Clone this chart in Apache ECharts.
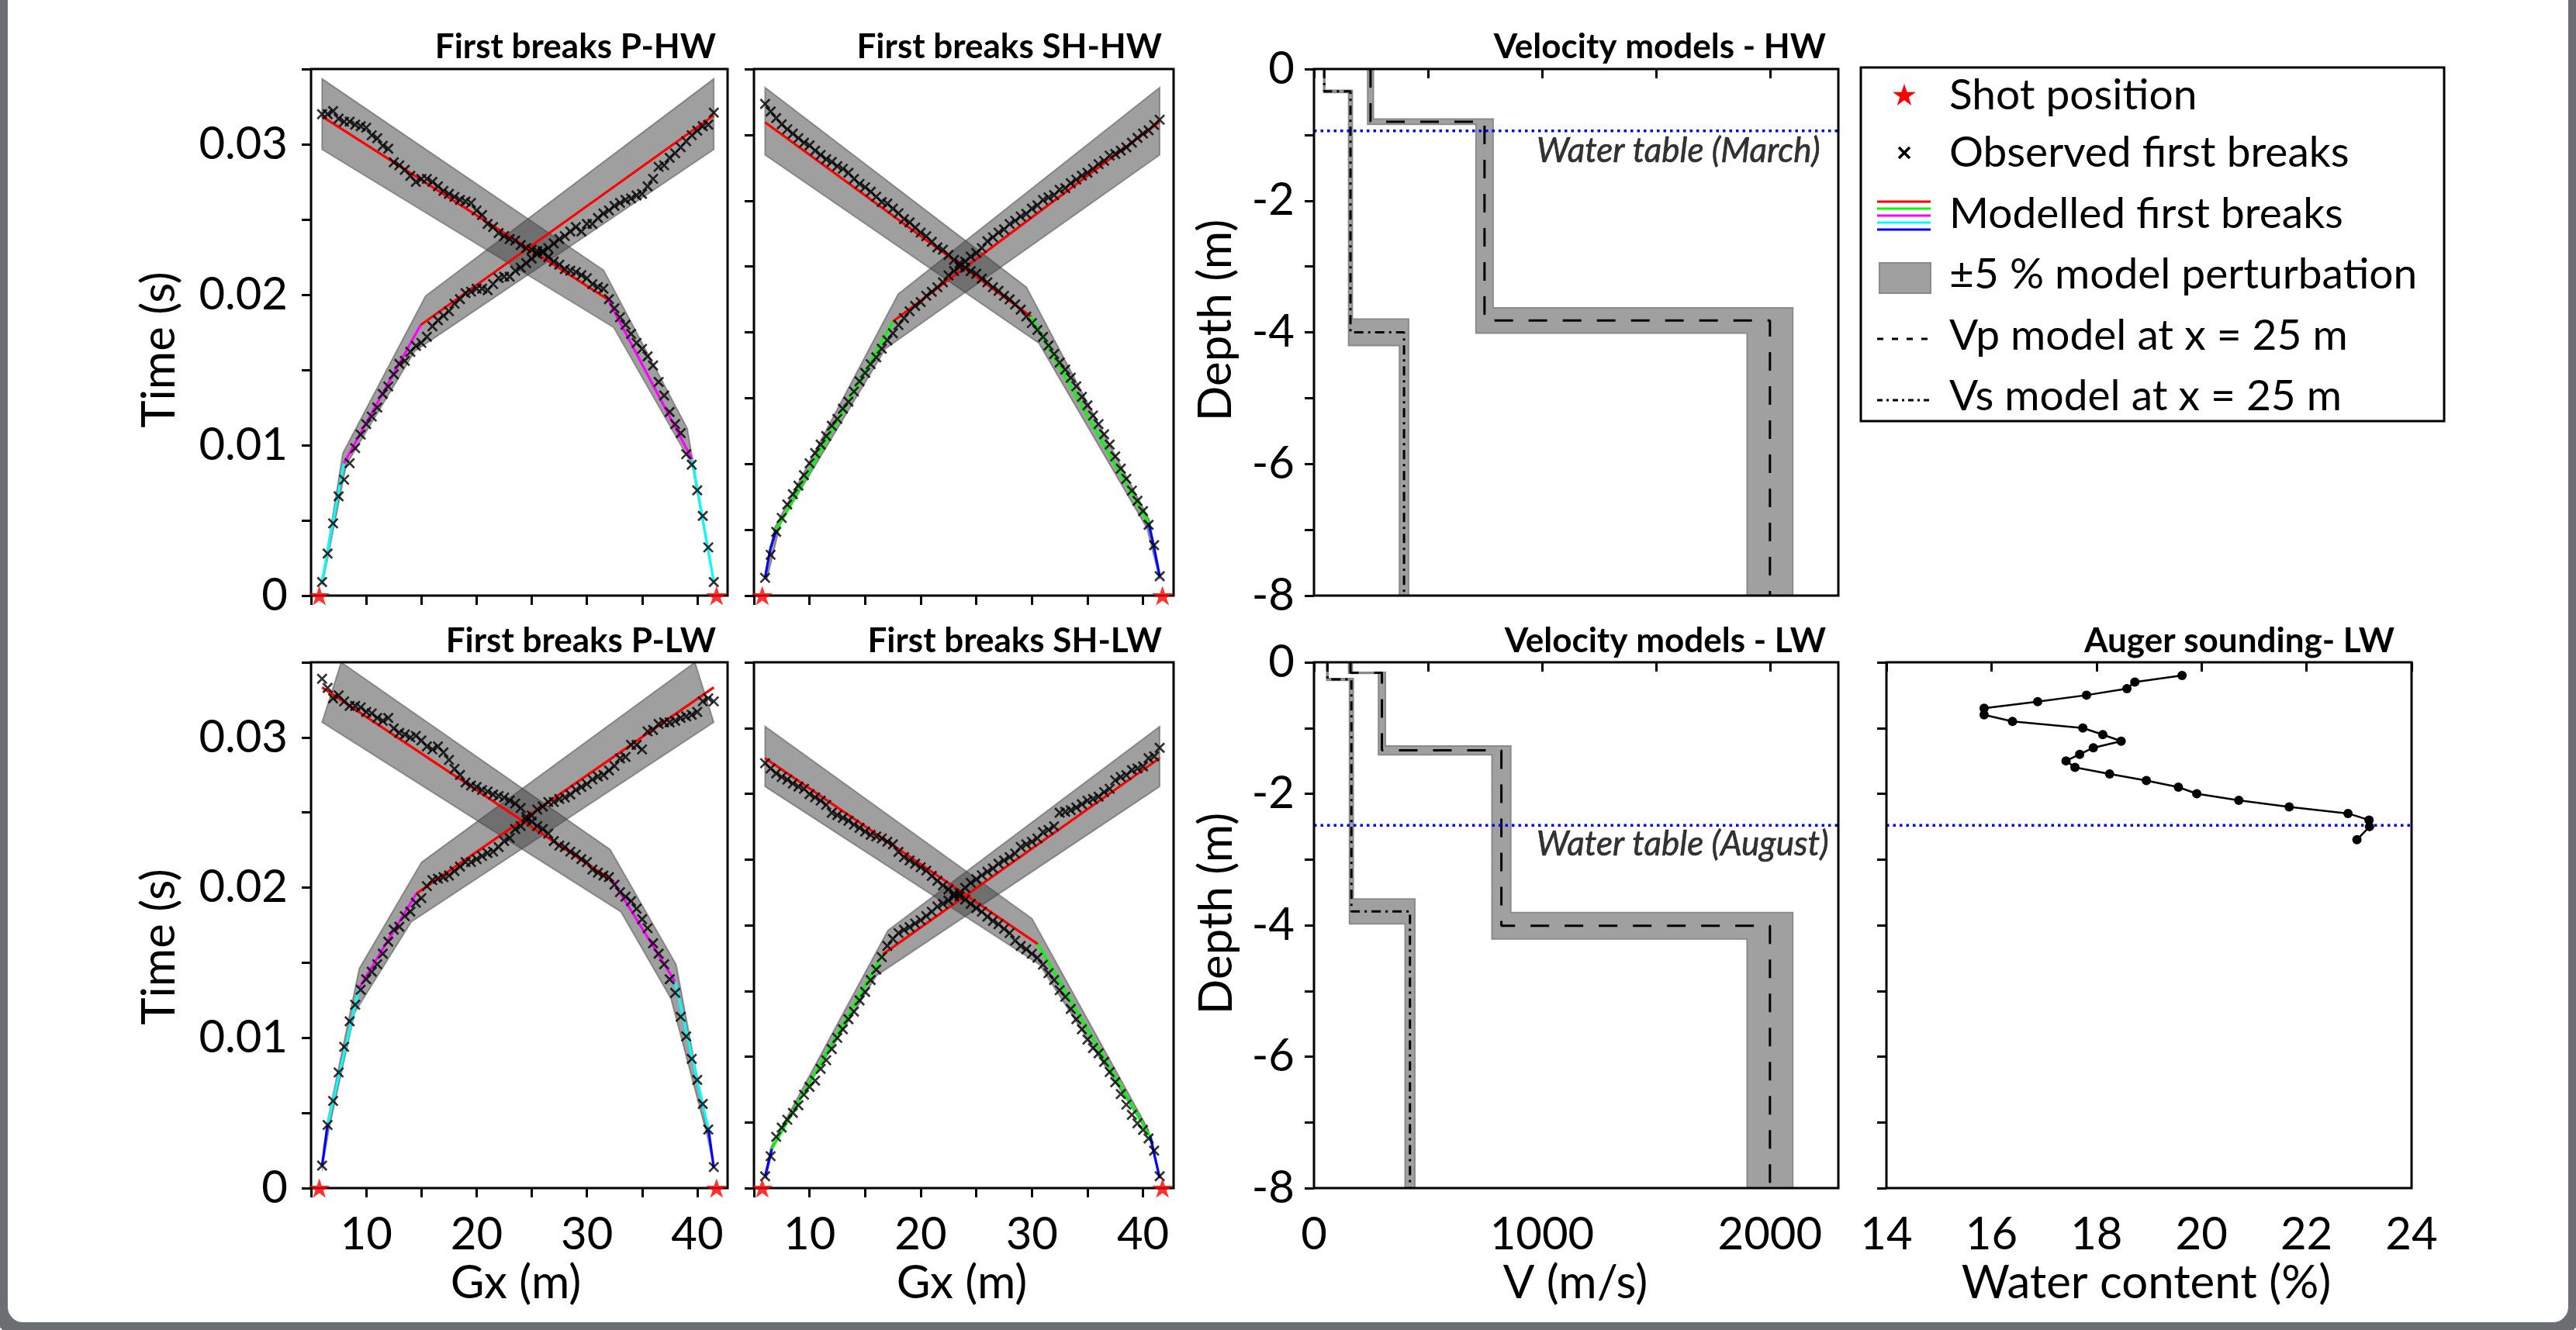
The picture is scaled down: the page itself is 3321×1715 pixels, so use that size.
<!DOCTYPE html>
<html>
<head>
<meta charset="utf-8">
<script src="https://cdn.jsdelivr.net/npm/echarts@6/dist/echarts.min.js"></script>
<style>
  html, body { margin: 0; padding: 0; background: #fff; }
  #chart { width: 3321px; height: 1715px; }
</style>
</head>
<body>
<div id="chart"></div>
<script>
// ---------------------------------------------------------------------------
// Data
// ---------------------------------------------------------------------------

// Geophone positions along the profile (m)
const geophones = [6, 6.5, 7, 7.5, 8, 8.5, 9, 9.5, 10, 10.5, 11, 11.5, 12, 12.5, 13, 13.5,
  14, 14.5, 15, 15.5, 16, 16.5, 17, 17.5, 18, 18.5, 19, 19.5, 20, 20.5, 21, 21.5, 22, 22.5,
  23, 23.5, 24, 24.5, 25, 25.5, 26, 26.5, 27, 27.5, 28, 28.5, 29, 29.5, 30, 30.5, 31, 31.5,
  32, 32.5, 33, 33.5, 34, 34.5, 35, 35.5, 36, 36.5, 37, 37.5, 38, 38.5, 39, 39.5, 40, 40.5,
  41, 41.5];

// Shot positions (m)
const shots = [5.75, 41.75];

// Observed first-break times (ms); A = shot at 5.75 m, B = shot at 41.75 m
const pHwObsA = [0.9, 2.8, 4.8, 6.6, 7.7, 8.8, 9.8, 10.7, 11.4, 11.9, 12.5, 13.4, 13.9, 14.7,
  15.4, 15.6, 16.2, 16.6, 16.8, 17.2, 17.9, 18.3, 18.6, 18.9, 19.4, 19.7, 20.1, 20.2, 20.4,
  20.4, 20.3, 20.7, 21.1, 21.2, 21.2, 21.6, 21.8, 22.1, 22.4, 22.7, 22.9, 23.1, 23.4, 23.7,
  23.9, 24.2, 24.5, 24.2, 24.7, 24.7, 25.1, 25.4, 25.6, 25.9, 26.1, 26.3, 26.4, 26.6, 26.7,
  27.2, 27.7, 28.5, 28.6, 29.1, 29.4, 29.8, 30.2, 30.6, 30.9, 31.2, 31.3, 32.1];
const pHwObsB = [32.0, 32.0, 32.2, 31.7, 31.5, 31.5, 31.3, 31.2, 31.1, 30.6, 30.4, 29.9, 29.7,
  28.8, 28.6, 28.3, 27.9, 27.5, 27.7, 27.7, 27.5, 27.2, 26.9, 26.7, 26.5, 26.3, 26.2, 26.1,
  25.6, 25.3, 24.7, 24.5, 24.1, 23.9, 23.7, 23.6, 23.3, 23.1, 23.0, 22.9, 22.8, 22.5, 22.2,
  22.0, 21.7, 21.6, 21.5, 21.3, 21.1, 20.7, 20.5, 20.4, 19.7, 19.1, 18.5, 18.0, 17.4, 16.8,
  16.4, 15.9, 15.3, 14.2, 13.3, 12.2, 11.4, 10.8, 9.4, 8.7, 7.0, 5.3, 3.2, 0.9];
const shHwObsA = [5.4, 12.4, 19.4, 23.6, 27.7, 30.8, 33.4, 36.6, 40.2, 43.3, 45.9, 48.5, 51.6,
  53.7, 56.8, 58.9, 62.0, 65.1, 67.7, 70.3, 72.4, 75.0, 77.6, 79.7, 82.2, 84.3, 86.4, 88.0,
  89.2, 91.1, 92.3, 93.7, 95.2, 97.3, 98.6, 99.9, 101.5, 103.0, 104.1, 105.6, 107.7, 108.9,
  110.3, 111.3, 112.9, 113.9, 115.2, 116.0, 117.6, 118.6, 120.2, 121.0, 121.7, 123.3, 123.8,
  125.3, 126.4, 127.6, 128.5, 129.7, 131.1, 132.1, 133.7, 134.2, 135.2, 136.2, 137.6, 139.1,
  140.4, 141.4, 143.0, 144.6];
const shHwObsB = [149.4, 147.1, 145.1, 143.2, 141.7, 140.4, 139.0, 137.6, 136.8, 135.2, 133.9,
  132.6, 131.8, 130.5, 129.7, 128.5, 126.6, 125.1, 124.1, 122.7, 121.2, 119.6, 119.1, 117.6,
  116.2, 114.4, 113.4, 111.8, 110.3, 109.2, 107.5, 105.8, 105.1, 103.5, 102.0, 100.9, 99.6,
  98.6, 97.8, 96.3, 95.2, 93.7, 92.6, 91.1, 90.0, 88.5, 86.9, 84.8, 82.8, 80.7, 78.6, 76.0,
  73.4, 70.8, 68.7, 66.2, 63.6, 60.4, 57.8, 54.7, 52.1, 49.0, 45.9, 42.3, 38.6, 35.5, 31.9,
  28.8, 25.7, 21.5, 15.3, 5.9];
const pLwObsA = [1.5, 4.2, 5.8, 7.7, 9.4, 11.1, 12.2, 13.2, 13.9, 14.4, 14.9, 15.6, 16.4, 17.2,
  17.4, 18.1, 18.4, 19.0, 19.3, 20.1, 20.5, 20.6, 20.7, 20.8, 21.1, 21.4, 21.7, 21.7, 21.9,
  22.1, 22.3, 22.4, 22.7, 23.1, 23.3, 23.9, 24.1, 24.5, 24.8, 25.2, 25.4, 25.7, 25.7, 25.9,
  26.0, 26.2, 26.5, 26.7, 26.9, 27.2, 27.4, 27.5, 27.8, 28.1, 28.6, 28.7, 29.5, 29.5, 29.2,
  30.4, 30.5, 30.9, 31.0, 31.0, 31.1, 31.3, 31.4, 31.5, 31.7, 32.4, 32.6, 32.4];
const pLwObsB = [33.9, 33.3, 32.6, 32.8, 32.4, 32.1, 32.1, 32.0, 31.7, 31.6, 31.3, 31.1, 31.3,
  30.6, 30.3, 30.2, 30.0, 30.1, 29.8, 29.4, 29.2, 29.4, 29.0, 28.5, 27.9, 27.5, 27.0, 26.8,
  26.7, 26.5, 26.4, 26.2, 26.1, 26.0, 25.8, 25.6, 25.3, 24.7, 24.4, 24.1, 23.9, 23.6, 23.1,
  22.8, 22.7, 22.4, 22.2, 21.9, 21.7, 21.2, 21.0, 20.8, 20.7, 20.2, 19.7, 19.4, 19.1, 18.6,
  17.9, 17.3, 16.3, 15.6, 14.9, 13.9, 13.0, 11.4, 10.1, 8.6, 7.2, 5.6, 3.9, 1.4];
const shLwObsA = [3.6, 9.7, 15.6, 18.4, 20.8, 22.9, 25.2, 28.4, 30.8, 32.7, 36.3, 38.9, 42.3,
  45.7, 48.3, 51.4, 53.7, 57.1, 59.7, 63.3, 66.5, 70.3, 73.7, 75.8, 77.6, 78.6, 79.4, 80.5,
  81.5, 82.8, 84.1, 85.7, 86.5, 87.5, 88.8, 89.8, 91.4, 92.9, 94.0, 95.2, 96.3, 97.3, 98.7,
  99.7, 100.7, 101.8, 103.8, 104.6, 105.4, 106.4, 108.3, 109.0, 110.1, 114.2, 114.5, 115.0,
  115.8, 116.8, 117.9, 118.4, 119.1, 120.5, 121.5, 124.1, 125.1, 125.7, 127.2, 127.7, 128.3,
  130.8, 131.4, 134.0];
const shLwObsB = [129.3, 127.7, 126.2, 125.1, 124.3, 123.1, 122.2, 121.5, 119.9, 118.9, 117.9,
  116.6, 114.2, 113.5, 112.7, 111.8, 110.6, 109.6, 108.5, 107.5, 107.0, 106.4, 105.4, 104.6,
  102.3, 100.7, 99.7, 98.7, 97.6, 96.6, 95.0, 93.5, 92.1, 90.9, 89.6, 88.8, 87.8, 86.5, 85.2,
  84.1, 82.6, 81.3, 80.3, 78.9, 77.6, 75.3, 73.7, 72.7, 71.3, 70.1, 68.0, 65.4, 63.3, 60.2,
  58.2, 54.5, 51.4, 48.3, 45.2, 42.6, 41.0, 38.4, 35.3, 32.2, 28.6, 25.4, 22.3, 19.7, 17.7,
  15.1, 11.4, 3.6];

// Modelled first breaks: breakpoints [Gx (m), t (ms)]
const pHwModelA = [[6, 0.95], [7.97, 8.79], [14.94, 17.99], [41.5, 31.92]];
const pHwModelB = [[6, 31.85], [31.89, 19.7], [39.54, 9.06], [41.5, 0.95]];
const shHwModelA = [[6, 5.4], [6.47, 14.2], [7.02, 19.9], [17.51, 83.3], [41.5, 144.0]];
const shHwModelB = [[6, 143.8], [29.92, 84.8], [40.5, 22.0], [40.96, 15.3], [41.5, 5.9]];
const pLwModelA = [[6, 1.48], [6.49, 4.2], [9.37, 13.33], [14.54, 19.6], [41.5, 33.33]];
const pLwModelB = [[6, 33.33], [32.35, 20.45], [37.99, 13.74], [41.03, 3.86], [41.5, 1.36]];
const shLwModelA = [[6, 3.63], [6.62, 11.94], [16.59, 71.13], [41.5, 130.84]];
const shLwModelB = [[6, 130.84], [30.54, 74.25], [40.65, 15.58], [41.5, 3.12]];

// First-break envelopes of the ±5 % model perturbation (polygon vertices [Gx, t (ms)])
const pHwBandA = [[6, 0.9], [7.88, 9.47], [15.38, 19.92], [41.5, 34.35], [41.5, 29.65],
  [14.39, 16.24], [8.19, 8.68], [6.05, 0.8]];
const pHwBandB = [[6, 34.35], [31.52, 21.63], [39.1, 11.11], [41.45, 0.95], [41.5, 0.8],
  [39.54, 8.68], [32.42, 17.83], [6, 29.65]];
const shHwBandA = [[6, 5.9], [6.84, 20.5], [17.97, 91.6], [41.5, 154.4], [41.5, 133.9],
  [16.83, 75.0], [7.39, 22.0], [6.16, 4.9]];
const shHwBandB = [[6, 154.4], [29.52, 93.7], [40.56, 23.1], [41.42, 6.4], [41.5, 5.0],
  [40.35, 20.5], [30.63, 76.7], [6, 133.9]];
const pLwBandA = [[6, 1.48], [6.49, 4.43], [9.37, 14.61], [15.01, 21.69], [39.79, 35.0],
  [41.5, 31.01], [14.08, 17.72], [8.97, 11.7], [6.64, 3.98], [6.02, 1.36]];
const pLwBandB = [[7.73, 35.0], [32.11, 22.54], [38.09, 14.88], [40.87, 3.98], [41.5, 1.36],
  [40.9, 3.5], [37.62, 12.61], [33.07, 18.4], [6, 31.01]];
const shLwBandA = [[6, 3.6], [6.53, 12.46], [17.05, 78.4], [41.5, 140.5], [41.5, 122.2],
  [16.04, 64.7], [6.78, 14.0], [6.1, 3.1]];
const shLwBandB = [[6, 140.5], [30.01, 82.0], [40.5, 17.7], [41.45, 3.5], [41.5, 3.0],
  [40.8, 15.0], [30.69, 68.0], [6, 122.2]];

// Velocity models at x = 25 m: layer velocities (m/s) and interface depths (m)
const hwVp = [248, 748, 2000];
const hwVpInterfaces = [0.80, 3.82];
const hwVs = [45, 160, 395];
const hwVsInterfaces = [0.34, 4.00];
const lwVp = [160, 298, 822, 2000];
const lwVpInterfaces = [0.16, 1.34, 4.01];
const lwVs = [59, 164, 421];
const lwVsInterfaces = [0.26, 3.79];
const perturbation = 0.05;   // ±5 %
const modelBottom = 8;       // m

// Water table depths (m)
const waterTableMarch = 0.94;
const waterTableAugust = 2.48;

// Auger sounding (LW): depth (m, negative downwards) and water content (%)
const augerDepth = [-0.2, -0.3, -0.4, -0.5, -0.6, -0.7, -0.8, -0.9, -1.0, -1.1, -1.2, -1.3,
  -1.4, -1.5, -1.6, -1.7, -1.8, -1.9, -2.0, -2.1, -2.2, -2.3, -2.4, -2.5, -2.7];
const augerWater = [19.63, 18.73, 18.58, 17.81, 16.88, 15.86, 15.86, 16.40, 17.74, 18.12,
  18.47, 17.94, 17.68, 17.42, 17.59, 18.25, 18.95, 19.56, 19.91, 20.71, 21.67, 22.79, 23.19,
  23.20, 22.96];

// Axis ticks and tick labels
const gxTicks = [5, 10, 15, 20, 25, 30, 35, 40];
const gxLabels = [10, 20, 30, 40];
const timeTicksP = [0, 5, 10, 15, 20, 25, 30, 35];      // ms
const timeLabelsP = [0, 10, 20, 30];                    // ms
const timeTicksSH = [0, 20, 40, 60, 80, 100, 120, 140, 160];
const velTicks = [0, 500, 1000, 1500, 2000];
const velLabels = [0, 1000, 2000];
const depthTicks = [-8, -7, -6, -5, -4, -3, -2, -1, 0];
const depthLabels = [-8, -6, -4, -2, 0];
const wcTicks = [14, 16, 18, 20, 22, 24];
const wcLabels = [14, 16, 18, 20, 22, 24];

// ---------------------------------------------------------------------------
// Styling and layout
// ---------------------------------------------------------------------------
const FONT = 'Lato';
const C = { red: '#ff0000', green: '#00ff00', magenta: '#ff00ff', cyan: '#00ffff', blue: '#0000ff' };
const crossPath = 'path://M0,0L10,10M10,0L0,10';
// five-pointed star outline on a 100 x 93 box
const starOutline = [[50, 0], [61.8, 35.5], [100, 35.5], [69.1, 57.5], [80.9, 93], [50, 71],
  [19.1, 93], [30.9, 57.5], [0, 35.5], [38.2, 35.5]];
const starSymbol = 'path://M' + starOutline.map(p => p.join(',')).join('L') + 'Z';

const gridRects = [
  { left: 401, top: 89, width: 537, height: 679 },   // 0 first breaks P-HW
  { left: 972, top: 89, width: 541, height: 679 },   // 1 first breaks SH-HW
  { left: 1694, top: 89, width: 676, height: 679 },  // 2 velocity models HW
  { left: 401, top: 854, width: 537, height: 678 },  // 3 first breaks P-LW
  { left: 972, top: 854, width: 541, height: 678 },  // 4 first breaks SH-LW
  { left: 1694, top: 854, width: 676, height: 678 }, // 5 velocity models LW
  { left: 2432, top: 854, width: 677, height: 678 }  // 6 auger sounding LW
];

function fmtSeconds(v) { return v === 0 ? '0' : (v / 1000).toFixed(2); }
function fmtPlain(v) { return String(v); }

function axis(gridIndex, min, max, ticks, labels, margin, formatter) {
  const a = {
    type: 'value', gridIndex, min, max,
    axisLine: { show: false },
    splitLine: { show: false },
    axisTick: { show: true, inside: false, length: 12, lineStyle: { color: '#000', width: 3 }, customValues: ticks },
    axisLabel: { show: false }
  };
  if (labels) {
    a.axisLabel = {
      show: true, customValues: labels, color: '#000', fontFamily: FONT, fontSize: 58,
      margin: margin, formatter: formatter || fmtPlain
    };
  }
  return a;
}

const xAxis = [
  axis(0, 5, 42.75, gxTicks, null),
  axis(1, 5, 42.75, gxTicks, null),
  axis(2, 0, 2300, velTicks, null),
  axis(3, 5, 42.75, gxTicks, gxLabels, 31),
  axis(4, 5, 42.75, gxTicks, gxLabels, 31),
  axis(5, 0, 2300, velTicks, velLabels, 31),
  axis(6, 14, 24, wcTicks, wcLabels, 31)
];
const yAxis = [
  axis(0, 0, 35, timeTicksP, timeLabelsP, 30, fmtSeconds),
  axis(1, 0, 160, timeTicksSH, null),
  axis(2, -8, 0, depthTicks, depthLabels, 25),
  axis(3, 0, 35, timeTicksP, timeLabelsP, 30, fmtSeconds),
  axis(4, 0, 160, timeTicksSH, null),
  axis(5, -8, 0, depthTicks, depthLabels, 25),
  axis(6, -8, 0, depthTicks, null)
];

// ---------------------------------------------------------------------------
// Series builders
// ---------------------------------------------------------------------------
function polygonSeries(g, polygons, fill, stroke) {
  return {
    type: 'custom', xAxisIndex: g, yAxisIndex: g, clip: true, silent: true, z: 1,
    data: polygons.map(p => p[0]),
    renderItem: (params, api) => ({
      type: 'polygon',
      shape: { points: polygons[params.dataIndex].map(p => api.coord(p)) },
      style: { fill: fill, stroke: stroke, lineWidth: 2 }
    })
  };
}

function modelSeries(g, pts, colors) {
  return colors.map((c, i) => ({
    type: 'line', xAxisIndex: g, yAxisIndex: g, data: [pts[i], pts[i + 1]],
    symbol: 'none', silent: true, z: 3,
    lineStyle: { color: c, width: 3.2 }
  }));
}

function observedSeries(g, times) {
  return {
    type: 'scatter', xAxisIndex: g, yAxisIndex: g, silent: true, z: 4,
    data: geophones.map((x, i) => [x, times[i]]),
    symbol: crossPath, symbolSize: 12,
    itemStyle: { color: 'rgba(0,0,0,0)', borderColor: '#000', borderWidth: 2.7 }
  };
}

function shotSeries(g) {
  return {
    type: 'scatter', xAxisIndex: g, yAxisIndex: g, silent: true, z: 6, clip: false,
    data: shots.map(s => [s, 0]),
    symbol: starSymbol, symbolSize: 27, symbolKeepAspect: true,
    itemStyle: { color: C.red }
  };
}

// Velocity staircase from layer velocities and interface depths
function staircase(vel, ifc) {
  const pts = [[vel[0], 0]];
  ifc.forEach((d, i) => { pts.push([vel[i], -d]); pts.push([vel[i + 1], -d]); });
  pts.push([vel[vel.length - 1], -modelBottom]);
  return pts;
}
// ±perturbation envelope of a layered model (velocity and interface depth)
function envelope(vel, ifc, p) {
  const outer = staircase(vel.map(v => v * (1 + p)), ifc.map(d => d * (1 - p)));
  const inner = staircase(vel.map(v => v * (1 - p)), ifc.map(d => d * (1 + p)));
  return outer.concat(inner.reverse());
}

function modelLine(g, vel, ifc, dash) {
  return {
    type: 'line', xAxisIndex: g, yAxisIndex: g, data: staircase(vel, ifc),
    symbol: 'none', silent: true, z: 3,
    lineStyle: { color: '#000', width: 3, type: dash }
  };
}

function waterLine(g, x0, x1, depth) {
  return {
    type: 'line', xAxisIndex: g, yAxisIndex: g, data: [[x0, -depth], [x1, -depth]],
    symbol: 'none', silent: true, z: 3,
    lineStyle: { color: C.blue, width: 3.5, type: [3.5, 5] }
  };
}

function waterLabel(g, x, depth, text, distance, dy) {
  return {
    type: 'scatter', xAxisIndex: g, yAxisIndex: g, silent: true, clip: false, z: 3,
    data: [[x, -depth]], symbolSize: 1, itemStyle: { color: 'rgba(0,0,0,0)' },
    label: {
      show: true, formatter: text, position: 'left', distance: distance, offset: [0, dy],
      fontFamily: FONT, fontStyle: 'italic', fontSize: 44, color: '#000',
      textBorderColor: '#000', textBorderWidth: 0.6
    }
  };
}

const BAND_FILL = 'rgba(64,64,64,0.5)';
const BAND_STROKE = 'rgba(64,64,64,0.45)';
const VEL_FILL = '#a0a0a0';
const VEL_STROKE = '#8a8a8a';
const VP_DASH = [24, 20];
const VS_DASH = [12, 6, 3, 6];

const series = [];
function firstBreakPanel(g, bandA, bandB, modelA, colorsA, modelB, colorsB, obsA, obsB) {
  series.push(polygonSeries(g, [bandA, bandB], BAND_FILL, BAND_STROKE));
  series.push(...modelSeries(g, modelA, colorsA));
  series.push(...modelSeries(g, modelB, colorsB));
  series.push(observedSeries(g, obsA));
  series.push(observedSeries(g, obsB));
  series.push(shotSeries(g));
}

firstBreakPanel(0, pHwBandA, pHwBandB, pHwModelA, [C.cyan, C.magenta, C.red],
  pHwModelB, [C.red, C.magenta, C.cyan], pHwObsA, pHwObsB);
firstBreakPanel(1, shHwBandA, shHwBandB, shHwModelA, [C.blue, C.blue, C.green, C.red],
  shHwModelB, [C.red, C.green, C.blue, C.blue], shHwObsA, shHwObsB);
firstBreakPanel(3, pLwBandA, pLwBandB, pLwModelA, [C.blue, C.cyan, C.magenta, C.red],
  pLwModelB, [C.red, C.magenta, C.cyan, C.blue], pLwObsA, pLwObsB);
firstBreakPanel(4, shLwBandA, shLwBandB, shLwModelA, [C.blue, C.green, C.red],
  shLwModelB, [C.red, C.green, C.blue], shLwObsA, shLwObsB);

// Velocity models HW
series.push(polygonSeries(2, [envelope(hwVp, hwVpInterfaces, perturbation),
  envelope(hwVs, hwVsInterfaces, perturbation)], VEL_FILL, VEL_STROKE));
series.push(modelLine(2, hwVp, hwVpInterfaces, VP_DASH));
series.push(modelLine(2, hwVs, hwVsInterfaces, VS_DASH));
series.push(waterLine(2, 0, 2300, waterTableMarch));
series.push(waterLabel(2, 2300, waterTableMarch, 'Water table (March)', 23, 26));

// Velocity models LW
series.push(polygonSeries(5, [envelope(lwVp, lwVpInterfaces, perturbation),
  envelope(lwVs, lwVsInterfaces, perturbation)], VEL_FILL, VEL_STROKE));
series.push(modelLine(5, lwVp, lwVpInterfaces, VP_DASH));
series.push(modelLine(5, lwVs, lwVsInterfaces, VS_DASH));
series.push(waterLine(5, 0, 2300, waterTableAugust));
series.push(waterLabel(5, 2300, waterTableAugust, 'Water table (August)', 12, 25));

// Auger sounding LW
series.push(waterLine(6, 14, 24, waterTableAugust));
series.push({
  type: 'line', xAxisIndex: 6, yAxisIndex: 6, silent: true, z: 4,
  data: augerWater.map((w, i) => [w, augerDepth[i]]),
  symbol: 'circle', symbolSize: 12,
  itemStyle: { color: '#000' },
  lineStyle: { color: '#000', width: 2.5 }
});

// ---------------------------------------------------------------------------
// Graphic elements: frame, plot boxes, titles, axis names, legend
// ---------------------------------------------------------------------------
const graphic = [];

// outer rounded frame
graphic.push({
  type: 'rect', z: 0, silent: true,
  shape: { x: 0, y: -40, width: 3321, height: 1755, r: 30 },
  style: { fill: 'none', stroke: '#6d6e71', lineWidth: 20 }
});

// plot boxes
gridRects.forEach(r => graphic.push({
  type: 'rect', z: 5, silent: true,
  shape: { x: r.left, y: r.top, width: r.width, height: r.height },
  style: { fill: 'none', stroke: '#000', lineWidth: 3 }
}));

function text(str, x, y, opts) {
  const o = opts || {};
  return {
    type: 'text', x: x, y: y, z: 10, silent: true, rotation: o.rotation || 0,
    style: {
      text: str, fill: '#000', fontFamily: FONT, fontSize: o.size || 60,
      fontWeight: o.weight || 'normal', fontStyle: o.style || 'normal',
      align: o.align || 'center', verticalAlign: 'middle'
    }
  };
}

// panel titles
const T = { size: 44, weight: 'bold', align: 'right' };
graphic.push(text('First breaks P-HW', 923, 61, T));
graphic.push(text('First breaks SH-HW', 1498, 61, T));
graphic.push(text('Velocity models - HW', 2354, 61, T));
graphic.push(text('First breaks P-LW', 923, 827, T));
graphic.push(text('First breaks SH-LW', 1498, 827, T));
graphic.push(text('Velocity models - LW', 2354, 827, T));
graphic.push(text('Auger sounding- LW', 3087, 827, T));

// axis names
const R = { rotation: Math.PI / 2 };
graphic.push(text('Time (s)', 206, 451, R));
graphic.push(text('Time (s)', 206, 1221, R));
graphic.push(text('Depth (m)', 1568, 413, R));
graphic.push(text('Depth (m)', 1569, 1178, R));
graphic.push(text('Gx (m)', 665, 1655));
graphic.push(text('Gx (m)', 1240, 1655));
graphic.push(text('V (m/s)', 2031, 1655));
graphic.push(text('Water content (%)', 2767, 1655));

// legend
const LG = { x: 2399, y: 87, w: 752, h: 456, sx0: 2420, sx1: 2489, tx: 2513, cx: 2455 };
graphic.push({
  type: 'rect', z: 9, silent: true,
  shape: { x: LG.x, y: LG.y, width: LG.w, height: LG.h },
  style: { fill: '#fff', stroke: '#000', lineWidth: 3 }
});
const legendRows = [123, 197, 276, 354, 433, 511];
const starScale = 0.3;
graphic.push({
  type: 'polygon', z: 10, silent: true,
  shape: { points: starOutline.map(p => [LG.cx + (p[0] - 50) * starScale, legendRows[0] + (p[1] - 50) * starScale]) },
  style: { fill: C.red }
});
[[-7, -7, 7, 7], [-7, 7, 7, -7]].forEach(d => graphic.push({
  type: 'line', z: 10, silent: true,
  shape: { x1: LG.cx + d[0], y1: legendRows[1] + d[1], x2: LG.cx + d[2], y2: legendRows[1] + d[3] },
  style: { stroke: '#000', lineWidth: 3.5 }
}));
[C.red, C.green, C.magenta, C.cyan, C.blue].forEach((c, i) => graphic.push({
  type: 'line', z: 10, silent: true,
  shape: { x1: LG.sx0, y1: 260 + i * 9, x2: LG.sx1, y2: 260 + i * 9 },
  style: { stroke: c, lineWidth: 3 }
}));
graphic.push({
  type: 'rect', z: 10, silent: true,
  shape: { x: 2423, y: 339, width: 66, height: 39 },
  style: { fill: VEL_FILL, stroke: VEL_STROKE, lineWidth: 2 }
});
graphic.push({
  type: 'line', z: 10, silent: true,
  shape: { x1: LG.sx0, y1: 437, x2: LG.sx1, y2: 437 },
  style: { stroke: '#000', lineWidth: 3, lineDash: [8, 11] }
});
graphic.push({
  type: 'line', z: 10, silent: true,
  shape: { x1: LG.sx0, y1: 516, x2: LG.sx1, y2: 516 },
  style: { stroke: '#000', lineWidth: 3, lineDash: [7, 5, 3, 5] }
});
const legendTexts = ['Shot position', 'Observed first breaks', 'Modelled first breaks',
  '\u00b15 % model perturbation', 'Vp model at x = 25 m', 'Vs model at x = 25 m'];
legendTexts.forEach((s, i) => graphic.push(text(s, LG.tx, legendRows[i], { size: 55, align: 'left' })));

// ---------------------------------------------------------------------------
const chart = echarts.init(document.getElementById('chart'), null, { renderer: 'canvas' });
chart.setOption({
  backgroundColor: '#ffffff',
  animation: false,
  grid: gridRects.map(r => ({ left: r.left, top: r.top, width: r.width, height: r.height, show: false })),
  xAxis: xAxis,
  yAxis: yAxis,
  series: series,
  graphic: graphic
});
</script>
</body>
</html>
